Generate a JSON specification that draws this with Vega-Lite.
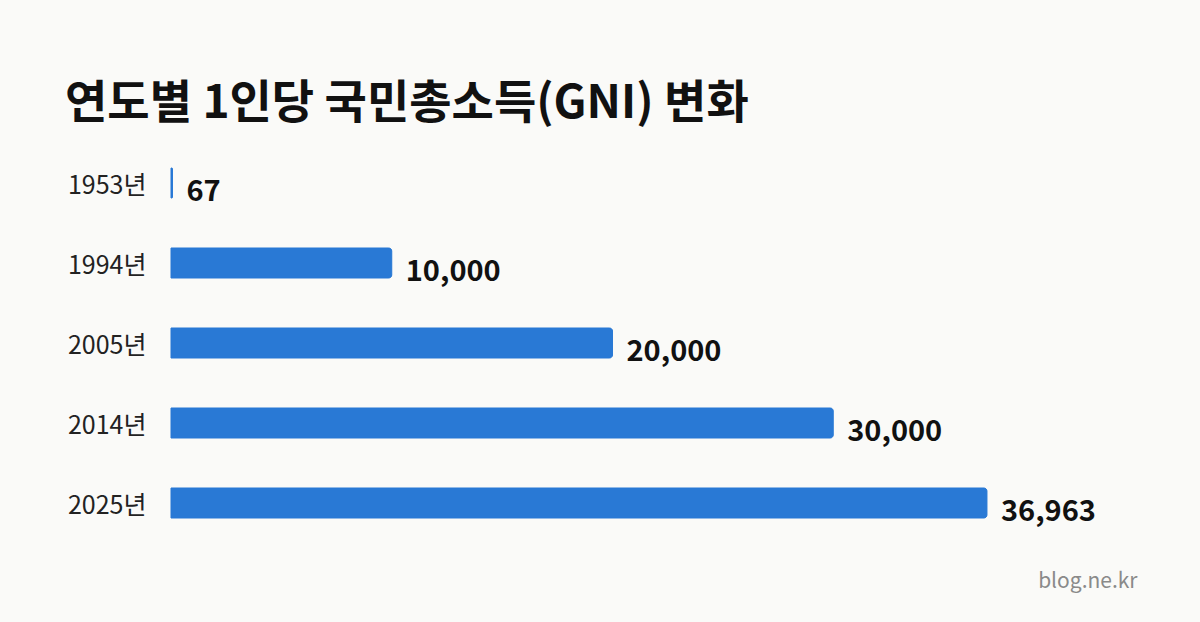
{
  "$schema": "https://vega.github.io/schema/vega-lite/v6.json",
  "description": "연도별 1인당 국민총소득(GNI) 변화",
  "autosize": {"type": "none"},
  "width": 883,
  "height": 400,
  "padding": {"left": 171, "top": 143, "right": 146, "bottom": 79},
  "background": "#fafaf8",
  "title": {
    "text": "연도별 1인당 국민총소득(GNI) 변화",
    "anchor": "start",
    "frame": "group",
    "dx": -106,
    "offset": 15,
    "fontSize": 46,
    "fontWeight": "bold",
    "color": "#111111"
  },
  "data": {
    "values": [
      {"year": "1953년", "gni": 67},
      {"year": "1994년", "gni": 10000},
      {"year": "2005년", "gni": 20000},
      {"year": "2014년", "gni": 30000},
      {"year": "2025년", "gni": 36963}
    ]
  },
  "encoding": {
    "y": {
      "field": "year",
      "type": "nominal",
      "sort": null,
      "title": null,
      "scale": {"paddingInner": 0.625, "paddingOuter": 0.3125},
      "axis": {
        "domain": false,
        "ticks": false,
        "labelPadding": 25,
        "labelOffset": 3,
        "labelFontSize": 25,
        "labelColor": "#222222"
      }
    },
    "x": {
      "field": "gni",
      "type": "quantitative",
      "scale": {"domain": [0, 40000], "nice": false},
      "axis": {
        "domain": false,
        "ticks": false,
        "labels": false,
        "grid": false,
        "title": "blog.ne.kr",
        "titleAlign": "right",
        "titleX": 966,
        "titleY": 27,
        "titleFontSize": 21,
        "titleFontWeight": "normal",
        "titleColor": "#8a8a8a"
      }
    }
  },
  "layer": [
    {
      "mark": {"type": "bar", "color": "#2979d5", "cornerRadiusEnd": 3, "stroke": "#2979d5", "strokeWidth": 1}
    },
    {
      "mark": {"type": "text", "align": "left", "baseline": "middle", "dx": 14, "dy": 9, "fontSize": 29, "fontWeight": "bold", "color": "#111111"},
      "encoding": {
        "text": {"field": "gni", "type": "quantitative", "format": ","}
      }
    }
  ],
  "config": {
    "font": "Noto Sans CJK KR",
    "view": {"stroke": null}
  }
}
